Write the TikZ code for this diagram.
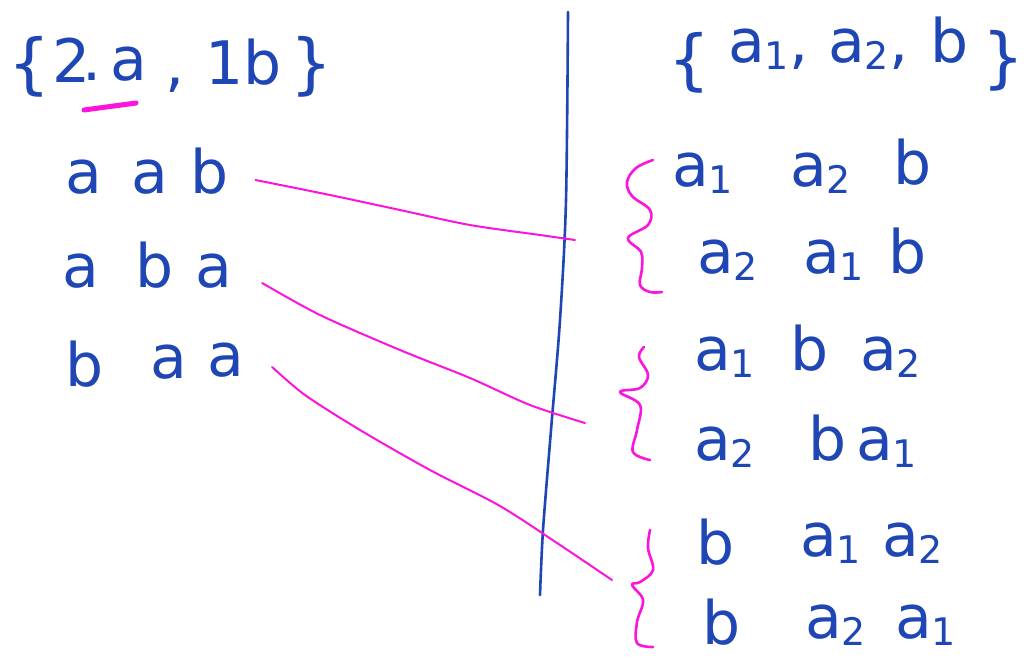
\documentclass[tikz,border=0pt]{standalone}
\usepackage{fontspec}
\setmainfont{DejaVu Sans}
\definecolor{ink}{RGB}{30,70,180}
\definecolor{pink}{RGB}{250,20,220}
\tikzset{
  hw/.style={text=ink, font=\fontsize{60}{64}\selectfont, inner sep=0pt, anchor=base west},
  hwbr/.style={text=ink, font=\fontsize{66}{70}\selectfont, inner sep=0pt, anchor=base west},
  pinkline/.style={draw=pink, line width=2pt, line cap=round, line join=round},
  pinkbrace/.style={draw=pink, line width=2.6pt, line cap=round, line join=round},
  divider/.style={draw=ink, line width=2.6pt, line cap=round}
}
\newcommand{\mysub}[1]{\raisebox{-7pt}{\fontsize{38}{38}\selectfont #1}}
\begin{document}
\begin{tikzpicture}[x=1pt,y=-1pt]
\useasboundingbox[fill=white] (0,0) rectangle (1030,657);
% left set
\node[hwbr] (lbr) at (8,86) {\{};
\node[hw] (ltwo) at (52,82) {2};
\node[hw] (ldot) at (82,80) {.};
\node[hw] (la) at (110,80) {a};
\node[hw] (lcomma) at (165,85) {,};
\node[hw] (lone) at (205,84) {1b};
\node[hwbr] (rbr) at (290,86) {\}};
\coordinate (ulA) at (84,110);
\coordinate (ulB) at (136,103);
\draw[draw=pink, line width=5pt, line cap=round] (ulA) -- (ulB);
% left rows
\node[hw] (l1a) at (65,193) {a};
\node[hw] (l1b) at (131,193) {a};
\node[hw] (l1c) at (190,193) {b};
\node[hw] (l2a) at (62,287) {a};
\node[hw] (l2b) at (135,287) {b};
\node[hw] (l2c) at (195,287) {a};
\node[hw] (l3a) at (65,386) {b};
\node[hw] (l3b) at (150,378) {a};
\node[hw] (l3c) at (207,376) {a};
% divider
\coordinate (vt) at (568,12);
\coordinate (vb) at (540,595);
\draw[divider] plot[smooth] coordinates {(vt) (566,200) (560,320) (551,430) (543,530) (vb)};
% right set
\node[hwbr] (rsl) at (668,82) {\{};
\node[hw] (ra1) at (728,62) {a\mysub{1},};
\node[hw] (ra2) at (828,62) {a\mysub{2},};
\node[hw] (rb) at (930,62) {b};
\node[hwbr] (rsr) at (982,80) {\}};
% right rows
\node[hw] (r1a) at (672,186) {a\mysub{1}};
\node[hw] (r1b) at (790,186) {a\mysub{2}};
\node[hw] (r1c) at (893,184) {b};
\node[hw] (r2a) at (697,273) {a\mysub{2}};
\node[hw] (r2b) at (803,273) {a\mysub{1}};
\node[hw] (r2c) at (888,273) {b};
\node[hw] (r3a) at (694,370) {a\mysub{1}};
\node[hw] (r3b) at (790,370) {b};
\node[hw] (r3c) at (860,370) {a\mysub{2}};
\node[hw] (r4a) at (694,460) {a\mysub{2}};
\node[hw] (r4b) at (808,460) {b};
\node[hw] (r4c) at (856,460) {a\mysub{1}};
\node[hw] (r5a) at (696,564) {b};
\node[hw] (r5b) at (800,556) {a\mysub{1}};
\node[hw] (r5c) at (882,556) {a\mysub{2}};
\node[hw] (r6a) at (702,644) {b};
\node[hw] (r6b) at (805,638) {a\mysub{2}};
\node[hw] (r6c) at (895,638) {a\mysub{1}};
% braces
\draw[pinkbrace] plot[smooth, tension=0.6] coordinates {(653,160) (636,168) (627,182) (632,196) (650,210) (648,225) (628,238) (641,252) (642,268) (640,285) (650,292) (662,292)};
\draw[pinkbrace] plot[smooth, tension=0.6] coordinates {(644,347) (639,357) (648,375) (640,388) (620,392) (640,405) (637,430) (633,452) (650,460)};
\draw[pinkbrace] plot[smooth, tension=0.6] coordinates {(650,530) (648,548) (653,570) (640,582) (632,585) (643,600) (637,622) (637,643) (653,647)};
% connectors
\coordinate (e1) at (575,240);
\coordinate (e2) at (585,423);
\coordinate (e3) at (612,580);
\draw[pinkline] plot[smooth] coordinates {([shift={(27pt,13pt)}]l1c.base east) (330,195) (400,210) (470,225) (540,235) (e1)};
\draw[pinkline] plot[smooth] coordinates {([shift={(30pt,4pt)}]l2c.base east) (320,315) (400,350) (470,378) (530,405) (e2)};
\draw[pinkline] plot[smooth] coordinates {([shift={(28pt,9pt)}]l3c.base east) (305,395) (360,430) (430,470) (500,506) (560,545) (e3)};
\end{tikzpicture}
\end{document}
